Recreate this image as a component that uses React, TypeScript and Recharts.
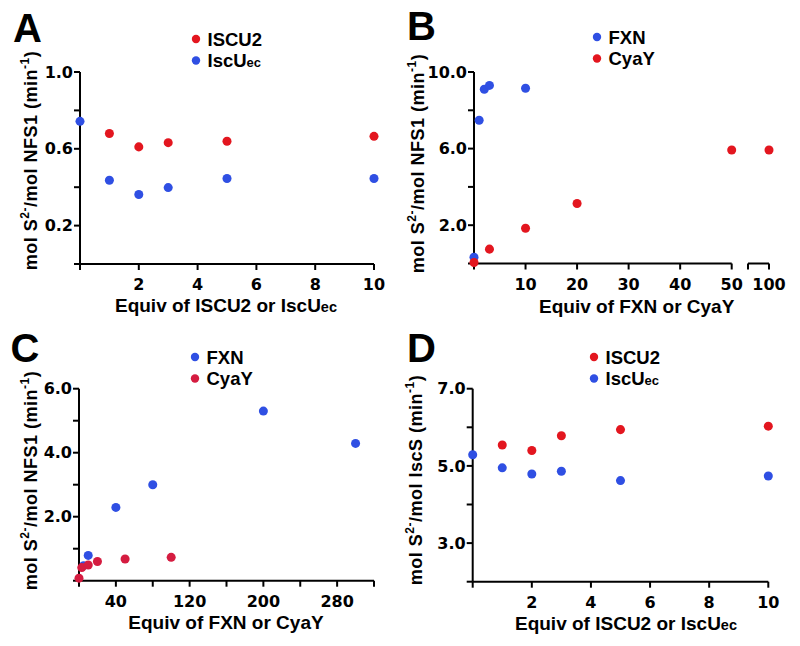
import React from 'react'
import { Label, Legend, Scatter, ScatterChart, XAxis, YAxis, ZAxis } from 'recharts'

const RED = '#e3161f'
const BLUE = '#2f4fe3'
const CRIMSON = '#d51c40'

const FONT = '"Liberation Sans", Arial, Helvetica, sans-serif'
const TICK_FONT = '"DejaVu Sans", sans-serif'

// A – NFS1 activity vs ISCU2 / IscUec
const aIscu2X = [1, 2, 3, 5, 10]
const aIscu2Y = [0.68, 0.61, 0.632, 0.639, 0.665]
const aIscUX = [0, 1, 2, 3, 5, 10]
const aIscUY = [0.743, 0.436, 0.362, 0.398, 0.445, 0.445]
const aXTicks = [0, 2, 4, 6, 8, 10]
const aYTicks = [0, 0.2, 0.4, 0.6, 0.8, 1.0]
const aYLabels = [0.2, 0.6, 1.0]

// B – NFS1 activity vs FXN / CyaY (broken x axis, 50 | 100)
const bFxnX = [0, 1, 2, 3, 10]
const bFxnY = [0.33, 7.48, 9.1, 9.3, 9.15]
const bCyaYX = [0, 3, 10, 20, 50, 100]
const bCyaYY = [0.05, 0.75, 1.84, 3.13, 5.93, 5.93]
const bXTicks = [0, 10, 20, 30, 40, 50]
const bBreakTicks = [95, 100]
const bYTicks = [0, 2, 4, 6, 8, 10]
const bYLabels = [2, 6, 10]

// C – NFS1 activity vs FXN / CyaY, wide range
const cFxnX = [5, 10, 40, 80, 200, 300]
const cFxnY = [0.47, 0.79, 2.29, 3.0, 5.3, 4.29]
const cCyaYX = [0, 3, 10, 20, 50, 100]
const cCyaYY = [0.08, 0.41, 0.49, 0.6, 0.68, 0.73]
const cXTicks = [0, 40, 80, 120, 160, 200, 240, 280, 320]
const cXLabels = [40, 120, 200, 280]
const cYTicks = [0, 1, 2, 3, 4, 5, 6]
const cYLabels = [2, 4, 6]

// D – IscS activity vs ISCU2 / IscUec
const dIscu2X = [1, 2, 3, 5, 10]
const dIscu2Y = [5.54, 5.4, 5.78, 5.94, 6.03]
const dIscUX = [0, 1, 2, 3, 5, 10]
const dIscUY = [5.29, 4.95, 4.79, 4.86, 4.62, 4.74]
const dYTicks = [2, 3, 4, 5, 6, 7]
const dYLabels = [3, 5, 7]

type Series = { name: string; sub?: string; color: string; x: number[]; y: number[] }
type Margin = { top: number; right: number; bottom: number; left: number }

const points = (s: Series, keep = (_x: number) => true) =>
  s.x.map((x, i) => ({ x, y: s.y[i] })).filter((p) => keep(p.x))

const axisLine = { stroke: '#000', strokeWidth: 2 }
const tickStyle = { fill: '#000', fontSize: 16, fontWeight: 700, fontFamily: TICK_FONT }
const decFmt = (labels: number[]) => (v: number) => (labels.includes(v) ? v.toFixed(1) : '')
const intFmt = (labels: number[]) => (v: number) => (labels.includes(v) ? String(v) : '')

function LegendBox({ items }: { items: Series[] }) {
  return (
    <svg width={110} height={45} style={{ display: 'block', overflow: 'visible' }}>
      {items.map((s, i) => (
        <g key={s.name}>
          <circle cx={6} cy={8 + i * 21.5} r={4.2} fill={s.color} />
          <text x={17.5} y={14.5 + i * 21.5} fontFamily={FONT} fontWeight={700} fontSize={18.5} fill="#000">
            {s.name}
            {s.sub ? <tspan fontSize={13}>{s.sub}</tspan> : null}
          </text>
        </g>
      ))}
    </svg>
  )
}

function XTitle({ x, y, text, sub }: { x: number; y: number; text: string; sub?: string }) {
  return (
    <text x={x} y={y} textAnchor="middle" fontFamily={FONT} fontWeight={700} fontSize={19} fill="#000">
      {text}
      {sub ? <tspan fontSize={14.5}>{sub}</tspan> : null}
    </text>
  )
}

function YTitle({ x, y, unit }: { x: number; y: number; unit: string }) {
  return (
    <text
      transform={`rotate(-90 ${x} ${y})`}
      x={x}
      y={y}
      textAnchor="middle"
      fontFamily={FONT}
      fontWeight={700}
      fontSize={18}
      letterSpacing={0.5}
      fill="#000"
    >
      mol S<tspan dy={-8} fontSize={12}>2-</tspan>
      <tspan dy={8}>{`/mol ${unit} (min`}</tspan>
      <tspan dy={-8} fontSize={12}>-1</tspan>
      <tspan dy={8}>)</tspan>
    </text>
  )
}

type PanelProps = {
  left: number
  top: number
  margin: Margin
  letter: string
  letterLeft: number
  letterTop: number
  legend: Series[]
  drawOrder: Series[]
  legendX: number
  legendY: number
  xDomain: [number, number]
  xTicks: number[]
  xLabels: number[]
  yDomain: [number, number]
  yTicks: number[]
  yLabels: number[]
  xTitle: string
  xSub?: string
  xTitleX: number
  xTitleY: number
  yUnit: string
  yTitleX: number
  yTitleY: number
  keep?: (x: number) => boolean
}

function Panel(p: PanelProps) {
  return (
    <div style={{ position: 'absolute', left: p.left, top: p.top, width: 400, height: 323 }}>
      <ScatterChart width={400} height={323} margin={p.margin}>
        <XAxis
          type="number"
          dataKey="x"
          domain={p.xDomain}
          ticks={p.xTicks}
          interval={0}
          tickFormatter={intFmt(p.xLabels)}
          tick={tickStyle}
          tickSize={6}
          tickMargin={9}
          axisLine={axisLine}
          tickLine={axisLine}
          height={30}
        >
          <Label content={() => <XTitle x={p.xTitleX} y={p.xTitleY} text={p.xTitle} sub={p.xSub} />} />
        </XAxis>
        <YAxis
          type="number"
          dataKey="y"
          domain={p.yDomain}
          ticks={p.yTicks}
          interval={0}
          tickFormatter={decFmt(p.yLabels)}
          tick={tickStyle}
          tickSize={6}
          tickMargin={1}
          axisLine={axisLine}
          tickLine={axisLine}
          width={60}
        >
          <Label content={() => <YTitle x={p.yTitleX} y={p.yTitleY} unit={p.yUnit} />} />
        </YAxis>
        <ZAxis range={[70, 70]} />
        <Legend
          layout="horizontal"
          verticalAlign="middle"
          align="center"
          wrapperStyle={{ left: p.legendX - 6, top: p.legendY - 8, width: 110, height: 45 }}
          content={() => <LegendBox items={p.legend} />}
        />
        {p.drawOrder.map((s) => (
          <Scatter key={s.name} name={s.name} data={points(s, p.keep)} fill={s.color} isAnimationActive={false} />
        ))}
      </ScatterChart>
      <div
        style={{
          position: 'absolute',
          left: p.letterLeft - p.left,
          top: p.letterTop - p.top,
          fontFamily: FONT,
          fontWeight: 700,
          fontSize: 40,
          lineHeight: '40px',
        }}
      >
        {p.letter}
      </div>
    </div>
  )
}

const aIscu2: Series = { name: 'ISCU2', color: RED, x: aIscu2X, y: aIscu2Y }
const aIscU: Series = { name: 'IscU', sub: 'ec', color: BLUE, x: aIscUX, y: aIscUY }
const bFxn: Series = { name: 'FXN', color: BLUE, x: bFxnX, y: bFxnY }
const bCyaY: Series = { name: 'CyaY', color: RED, x: bCyaYX, y: bCyaYY }
const cFxn: Series = { name: 'FXN', color: BLUE, x: cFxnX, y: cFxnY }
const cCyaY: Series = { name: 'CyaY', color: CRIMSON, x: cCyaYX, y: cCyaYY }
const dIscu2: Series = { name: 'ISCU2', color: RED, x: dIscu2X, y: dIscu2Y }
const dIscU: Series = { name: 'IscU', sub: 'ec', color: BLUE, x: dIscUX, y: dIscUY }

export default function App() {
  return (
    <div style={{ position: 'absolute', left: 0, top: 0, width: 800, height: 646, background: '#fff' }}>
      <Panel
        left={0}
        top={0}
        margin={{ top: 72, right: 26, bottom: 29, left: 20 }}
        letter="A"
        letterLeft={13}
        letterTop={8}
        legend={[aIscu2, aIscU]}
        drawOrder={[aIscu2, aIscU]}
        legendX={196}
        legendY={38.5}
        xDomain={[0, 10]}
        xTicks={aXTicks}
        xLabels={aXTicks.slice(1)}
        yDomain={[0, 1]}
        yTicks={aYTicks}
        yLabels={aYLabels}
        xTitle="Equiv of ISCU2 or IscU"
        xSub="ec"
        xTitleX={226}
        xTitleY={312}
        yUnit="NFS1"
        yTitleX={37}
        yTitleY={160.5}
      />
      <Panel
        left={400}
        top={0}
        margin={{ top: 72, right: 68.3, bottom: 29.5, left: 14 }}
        letter="B"
        letterLeft={407}
        letterTop={6}
        legend={[bFxn, bCyaY]}
        drawOrder={[bFxn, bCyaY]}
        legendX={196.7}
        legendY={36.7}
        xDomain={[0, 50]}
        xTicks={bXTicks}
        xLabels={bXTicks.slice(1)}
        yDomain={[0, 10]}
        yTicks={bYTicks}
        yLabels={bYLabels}
        xTitle="Equiv of FXN or CyaY"
        xTitleX={236.7}
        xTitleY={313}
        yUnit="NFS1"
        yTitleX={24}
        yTitleY={163.5}
        keep={(x) => x <= 50}
      />
      <div style={{ position: 'absolute', left: 730, top: 0, width: 60, height: 323 }}>
        <ScatterChart width={60} height={323} margin={{ top: 72, right: 21, bottom: 29.5, left: 18 }}>
          <XAxis
            type="number"
            dataKey="x"
            domain={[95, 100]}
            ticks={bBreakTicks}
            interval={0}
            tickFormatter={intFmt([100])}
            tick={tickStyle}
            tickSize={6}
            tickMargin={9}
            axisLine={axisLine}
            tickLine={axisLine}
            height={30}
          />
          <YAxis type="number" dataKey="y" domain={[0, 10]} hide />
          <ZAxis range={[70, 70]} />
          <Scatter name="CyaY" data={points(bCyaY, (x) => x > 50)} fill={RED} isAnimationActive={false} />
        </ScatterChart>
      </div>
      <Panel
        left={0}
        top={323}
        margin={{ top: 65.7, right: 26, bottom: 35.3, left: 19 }}
        letter="C"
        letterLeft={10.5}
        letterTop={328}
        legend={[cFxn, cCyaY]}
        drawOrder={[cFxn, cCyaY]}
        legendX={195}
        legendY={34.3}
        xDomain={[0, 320]}
        xTicks={cXTicks}
        xLabels={cXLabels}
        yDomain={[0, 6]}
        yTicks={cYTicks}
        yLabels={cYLabels}
        xTitle="Equiv of FXN or CyaY"
        xTitleX={226}
        xTitleY={306}
        yUnit="NFS1"
        yTitleX={37}
        yTitleY={157.5}
      />
      <Panel
        left={400}
        top={323}
        margin={{ top: 65.7, right: 31.7, bottom: 34.3, left: 12.7 }}
        letter="D"
        letterLeft={407}
        letterTop={328}
        legend={[dIscu2, dIscU]}
        drawOrder={[dIscu2, dIscU]}
        legendX={194}
        legendY={34.3}
        xDomain={[0, 10]}
        xTicks={aXTicks}
        xLabels={aXTicks.slice(1)}
        yDomain={[2, 7]}
        yTicks={dYTicks}
        yLabels={dYLabels}
        xTitle="Equiv of ISCU2 or IscU"
        xSub="ec"
        xTitleX={226}
        xTitleY={307}
        yUnit="IscS"
        yTitleX={22}
        yTitleY={157}
      />
    </div>
  )
}
